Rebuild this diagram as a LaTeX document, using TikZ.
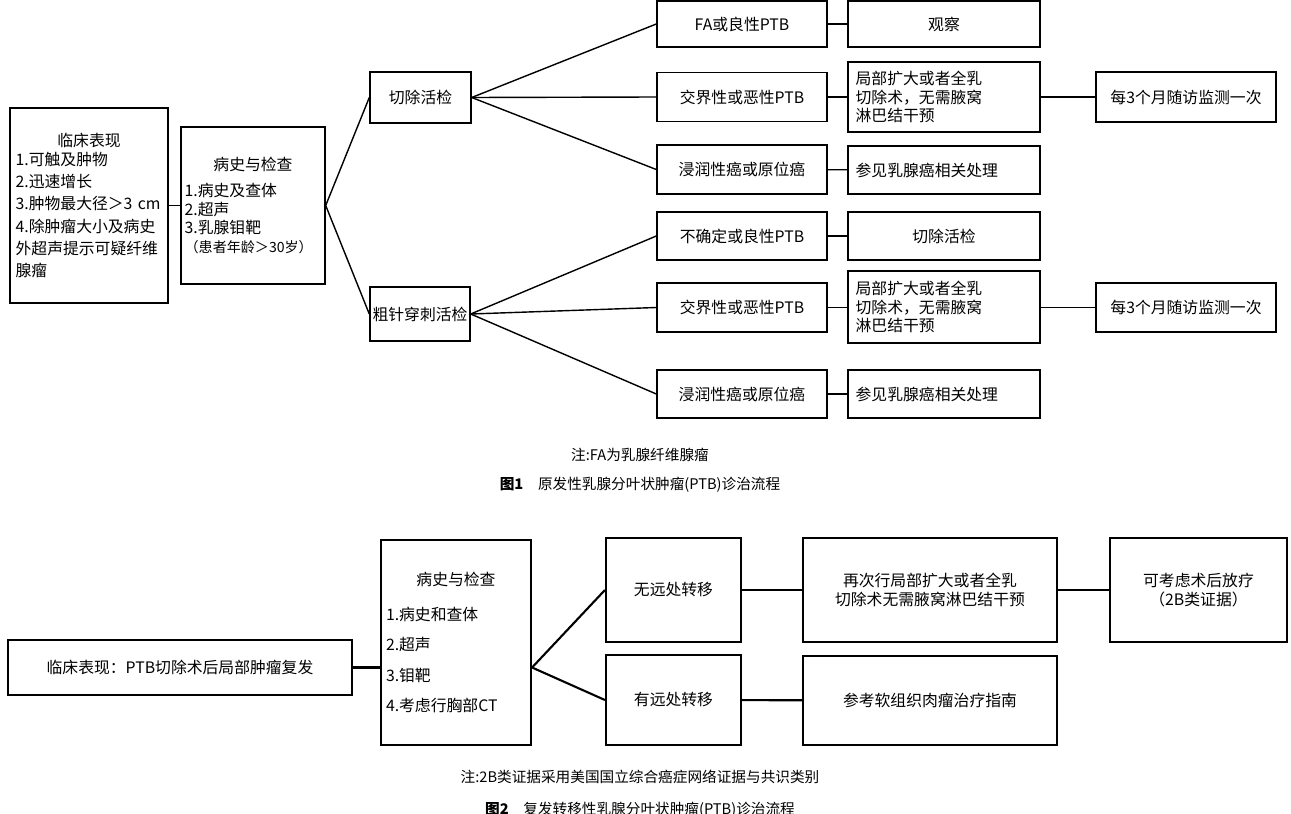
\documentclass[tikz,border=0pt]{standalone}
\usepackage{fontspec}
\setmainfont{Noto Sans CJK SC}
\XeTeXlinebreaklocale "zh"
\usetikzlibrary{positioning}

\begin{document}
\begin{tikzpicture}[
    x=0.03cm, y=-0.03cm,
    font=\fontsize{13.5}{16}\selectfont,
    box/.style={rectangle, draw=black, line width=1.2pt, inner sep=3pt, align=center},
    boxb/.style={box, line width=1.8pt},
    link/.style={draw=black, line width=1.2pt},
    linkb/.style={link, line width=1.8pt},
    note/.style={font=\fontsize{12.5}{15}\selectfont}
]
\useasboundingbox (0,0) rectangle (1291,814);

% figure 1
\node[box, minimum width=4.74cm, minimum height=5.85cm, text width=4.4cm, align=left] (clinic) at (89,205.5)
  {\centering 临床表现\par\raggedright 1.可触及肿物\\[3pt]2.迅速增长\\[3pt]3.肿物最大径＞3 cm\\[3pt]4.除肿瘤大小及病史\\[3pt]外超声提示可疑纤维\\[3pt]腺瘤};
\node[box, minimum width=4.32cm, minimum height=4.71cm, text width=4.1cm, inner sep=2pt, align=left] (exam) at (253,205.5)
  {\centering 病史与检查\par\vspace{6pt}\raggedright 1.病史及查体\\2.超声\\3.乳腺钼靶\\{\fontsize{12}{15}\selectfont（患者年龄＞30岁）}\par\vspace{28pt}};
\node[box, minimum width=3.03cm, minimum height=1.53cm] (excise) at (420.5,97.5) {切除活检};
\node[box, minimum width=3cm, minimum height=1.62cm, inner sep=1pt] (core) at (420,314) {粗针穿刺活检};

\foreach \n/\y/\h/\t in {fa/24/1.38/FA或良性PTB, bdA/97/1.47/交界性或恶性PTB, invA/169.5/1.47/浸润性癌或原位癌,
    unk/236/1.44/不确定或良性PTB, bdB/307.5/1.47/交界性或恶性PTB, invB/394/1.44/浸润性癌或原位癌}
  \node[box, minimum width=5.1cm, minimum height=\h cm] (\n) at (742,\y) {\t};

\foreach \n/\y/\h/\t in {obs/24/1.38/观察, exB/236/1.44/切除活检}
  \node[box, minimum width=5.76cm, minimum height=\h cm] (\n) at (944,\y) {\t};
\foreach \n/\y/\h in {wideA/97/2.1, wideB/307/2.16}
  \node[box, minimum width=5.76cm, minimum height=\h cm, text width=5.3cm, align=left] (\n) at (944,\y)
    {局部扩大或者全乳\\切除术，无需腋窝\\淋巴结干预};
\foreach \n/\y in {refA/170, refB/394}
  \node[box, minimum width=5.76cm, minimum height=1.44cm, text width=5.3cm, align=left] (\n) at (944,\y) {参见乳腺癌相关处理};

\node[box, minimum width=5.4cm, minimum height=1.5cm] (followA) at (1186,97) {每3个月随访监测一次};
\node[box, minimum width=5.4cm, minimum height=1.47cm] (followB) at (1186,307.5) {每3个月随访监测一次};

\draw[link] (clinic) -- (exam);
\draw[link] (excise.west) -- (exam.east) -- (core.west);
\foreach \n in {fa, bdA, invA} \draw[link] (excise.east) -- (\n.west);
\foreach \n in {unk, bdB, invB} \draw[link] (core.east) -- (\n.west);
\draw[link] (fa) -- (obs);
\draw[link] (bdA) -- (bdA -| wideA.west);
\draw[link] (invA) -- (refA);
\draw[link] (unk) -- (exB);
\draw[link] (bdB) -- (bdB -| wideB.west);
\draw[link] (invB) -- (refB);
\draw[link] (wideA.east |- followA) -- (followA);
\draw[link] (wideB.east |- followB) -- (followB);

\node[note] (noteA) at (640,455) {注:FA为乳腺纤维腺瘤};
\node[note] (capA) at (640,485) {\textbf{图1}\quad 原发性乳腺分叶状肿瘤(PTB)诊治流程};

% figure 2
\node[boxb, minimum width=10.32cm, minimum height=1.65cm] (relapse) at (180,667.5) {临床表现：PTB切除术后局部肿瘤复发};
\node[boxb, minimum width=4.5cm, minimum height=6.15cm, text width=4.2cm, align=left] (exam2) at (456,642.5)
  {\centering 病史与检查\par\vspace{14pt}\raggedright 1.病史和查体\\[10pt]2.超声\\[10pt]3.钼靶\\[10pt]4.考虑行胸部CT};
\node[boxb, minimum width=4.05cm, minimum height=3.12cm] (nometa) at (673.5,590) {无远处转移};
\node[boxb, minimum width=4.05cm, minimum height=2.7cm] (meta) at (673.5,700) {有远处转移};
\node[boxb, minimum width=7.62cm, minimum height=3.12cm] (redo) at (930,590) {再次行局部扩大或者全乳\\切除术无需腋窝淋巴结干预};
\node[boxb, minimum width=7.62cm, minimum height=2.67cm] (sarcoma) at (930,700.5) {参考软组织肉瘤治疗指南};
\node[boxb, minimum width=5.31cm, minimum height=3.12cm] (radio) at (1198.5,590) {可考虑术后放疗\\（2B类证据）};

\draw[linkb] (relapse) -- (exam2.west |- relapse.east);
\draw[linkb] (nometa.west) -- (exam2.east |- relapse.east) -- (meta.west);
\draw[linkb] (nometa) -- (redo);
\draw[linkb] (meta) -- (sarcoma);
\draw[linkb] (redo) -- (radio);

\node[note] (noteB) at (640,777) {注:2B类证据采用美国国立综合癌症网络证据与共识类别};
\node[note] (capB) at (640,810) {\textbf{图2}\quad 复发转移性乳腺分叶状肿瘤(PTB)诊治流程};
\end{tikzpicture}
\end{document}
